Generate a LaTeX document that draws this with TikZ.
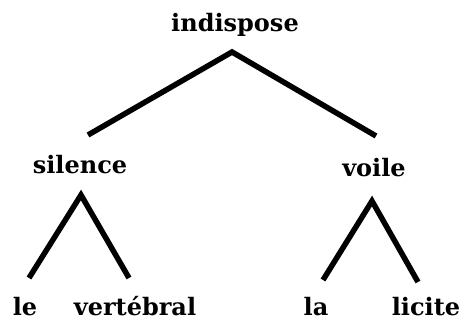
\documentclass[tikz,border=0pt]{standalone}
\usepackage{fontspec}
\setmainfont{DejaVu Serif}
\begin{document}
\begin{tikzpicture}[x=1pt,y=-1pt,
  word/.style={anchor=base,inner sep=0pt,font=\fontsize{24}{28}\selectfont\bfseries},
  branch/.style={line width=5.5pt,line join=miter,line cap=butt}]
\useasboundingbox (0,0) rectangle (465,320);
% words of the tree
\node[word] (indispose) at (235,32) {indispose};
\node[word] (silence) at (80,174) {silence};
\node[word] (voile) at (374,177) {voile};
\node[word] (le) at (25,315) {le};
\node[word] (vertebral) at (135,315) {vertébral};
\node[word] (la) at (316,315) {la};
\node[word] (licite) at (426,315) {licite};
% branches
\draw[branch] ([xshift=8pt,yshift=39pt]silence.base)
  -- ([xshift=-3pt,yshift=-20pt]indispose.base)
  -- ([xshift=2pt,yshift=41pt]voile.base);
\draw[branch] ([xshift=4pt,yshift=37pt]le.base)
  -- ([xshift=1pt,yshift=-21pt]silence.base)
  -- ([xshift=-6pt,yshift=37pt]vertebral.base);
\draw[branch] ([xshift=7pt,yshift=35pt]la.base)
  -- ([xshift=-2pt,yshift=-24pt]voile.base)
  -- ([xshift=-8pt,yshift=33pt]licite.base);
\end{tikzpicture}
\end{document}
